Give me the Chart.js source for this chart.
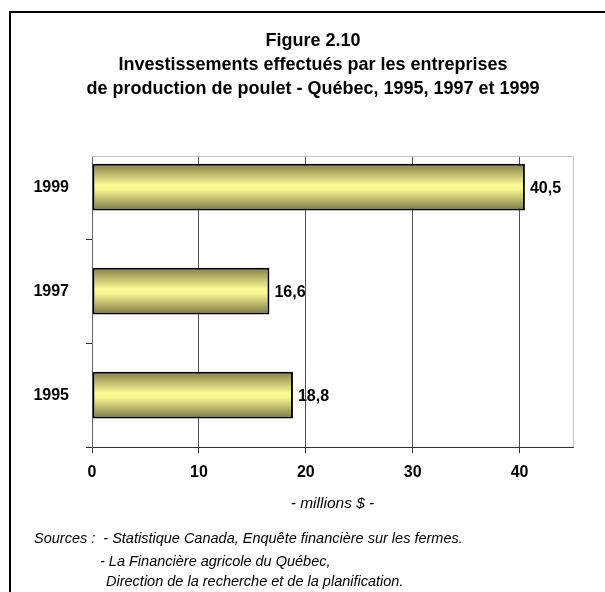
<!DOCTYPE html>
<html>
<head>
<meta charset="utf-8">
<script src="https://cdn.jsdelivr.net/npm/chart.js@4/dist/chart.umd.min.js"></script>
<style>
  html, body { margin: 0; padding: 0; background: #fff; overflow: hidden; }
  #wrap { position: absolute; left: 0; top: 0; width: 605px; height: 592px; }
  #frame { position: absolute; left: 9px; top: 11px; width: 700px; height: 700px;
           border-left: 2px solid #000; border-top: 2px solid #000; pointer-events: none; }
  #title { position: absolute; left: 41px; top: 28px; width: 544px; text-align: center;
           font: bold 18px 'Liberation Sans', Arial, sans-serif; line-height: 24px; color: #000; }
</style>
</head>
<body>
<div id="wrap"><canvas id="chart" width="605" height="592"></canvas></div>
<div id="title"></div>
<div id="frame"></div>
<script>
// data, bottom to top
const years = ['1995', '1997', '1999'];
const investissements = [18.8, 16.6, 40.5];
const xTicks = [0, 10, 20, 30, 40];

const titleLines = [
  'Figure 2.10',
  'Investissements effectués par les entreprises',
  'de production de poulet - Québec, 1995, 1997 et 1999'
];
const axisTitle = '- millions $ -';
const sources = [
  'Sources :  - Statistique Canada, Enquête financière sur les fermes.',
  '- La Financière agricole du Québec,',
  ' Direction de la recherche et de la planification.'
];

const FONT = "'Liberation Sans', Arial, sans-serif";

document.getElementById('title').innerHTML = titleLines.join('<br>');

// gradient per bar, dark edges and pale yellow middle
function barFill(ctx) {
  const chart = ctx.chart;
  const y = chart.scales.y;
  if (!y || ctx.dataIndex === undefined) return '#e8e68a';
  const mid = y.getPixelForValue(ctx.dataIndex);
  const half = Math.abs(y.getPixelForValue(0) - y.getPixelForValue(1)) * 0.45 / 2;
  if (!isFinite(mid) || !isFinite(half) || half === 0) return '#e8e68a';
  const g = chart.ctx.createLinearGradient(0, mid - half, 0, mid + half);
  g.addColorStop(0, '#828049');
  g.addColorStop(0.45, '#fbf993');
  g.addColorStop(0.55, '#f8f690');
  g.addColorStop(1, '#787643');
  return g;
}

const valueLabels = {
  id: 'valueLabels',
  afterDatasetsDraw(chart) {
    const c = chart.ctx;
    const meta = chart.getDatasetMeta(0);
    c.save();
    c.font = 'bold 16px ' + FONT;
    c.fillStyle = '#000';
    c.textBaseline = 'middle';
    c.textAlign = 'left';
    meta.data.forEach((bar, i) => {
      c.fillText(investissements[i].toFixed(1).replace('.', ','), bar.x + 5, bar.y + 1);
    });
    c.restore();
  }
};

const plotFrame = {
  id: 'plotFrame',
  beforeDatasetsDraw(chart) {
    const a = chart.chartArea;
    const c = chart.ctx;
    c.save();
    c.strokeStyle = '#c4c4c4';
    c.lineWidth = 1;
    c.beginPath();
    c.moveTo(a.left, a.top + 0.5);
    c.lineTo(a.right + 0.5, a.top + 0.5);
    c.lineTo(a.right + 0.5, a.bottom);
    c.stroke();
    c.restore();
  }
};

const sourceNote = {
  id: 'sourceNote',
  afterDraw(chart) {
    const c = chart.ctx;
    c.save();
    c.font = 'italic 14.5px ' + FONT;
    c.fillStyle = '#000';
    c.textBaseline = 'middle';
    c.fillText(sources[0], 34, 539);
    c.fillText(sources[1], 100, 562);
    c.fillText(sources[2], 102, 582);
    c.restore();
  }
};

new Chart(document.getElementById('chart'), {
  type: 'bar',
  data: {
    datasets: [{
      data: investissements.map((v, i) => ({ x: v, y: i })),
      backgroundColor: barFill,
      borderColor: '#000',
      borderWidth: 2,
      borderSkipped: false,
      categoryPercentage: 1,
      barPercentage: 0.45
    }]
  },
  options: {
    indexAxis: 'y',
    responsive: false,
    animation: false,
    devicePixelRatio: 1,
    layout: { padding: { left: 10, right: 32, top: 156, bottom: 75 } },
    plugins: {
      legend: { display: false },
      tooltip: { enabled: false },
      title: { display: false }
    },
    scales: {
      x: {
        type: 'linear',
        min: 0,
        max: 45,
        afterBuildTicks: s => { s.ticks = xTicks.map(v => ({ value: v })); },
        ticks: {
          color: '#000',
          font: { family: FONT, size: 16, weight: 'bold' },
          padding: 10
        },
        grid: { color: '#505050', lineWidth: 1, tickLength: 6, tickColor: '#333' },
        border: { color: '#333', width: 1 },
        title: {
          display: true,
          text: axisTitle,
          color: '#000',
          font: { family: FONT, size: 15.5, style: 'italic' },
          padding: { top: 2, bottom: 4 }
        }
      },
      y: {
        type: 'linear',
        offset: false,
        min: -0.5,
        max: 2.3,
        afterBuildTicks: s => { s.ticks = years.map((_, i) => ({ value: i })); },
        afterFit: s => { s.width = 82; },
        ticks: {
          color: '#000',
          font: { family: FONT, size: 16, weight: 'bold' },
          padding: 17,
          callback: v => years[v]
        },
        grid: { drawOnChartArea: false, offset: true, tickLength: 6, tickColor: '#333' },
        border: { color: '#666', width: 1 }
      }
    }
  },
  plugins: [plotFrame, valueLabels, sourceNote]
});
</script>
</body>
</html>
